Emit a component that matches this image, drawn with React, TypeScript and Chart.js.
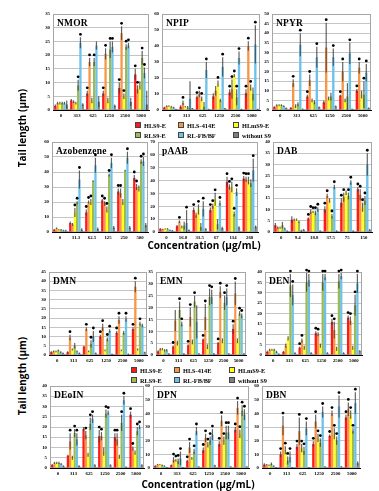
import React, { useEffect, useRef } from 'react';
import { Chart, registerables } from 'chart.js';
Chart.register(...registerables);

// ---------- labels ----------
const seriesNames = ['HLS9-E', 'HLS-414E', 'HLmS9-E', 'RLS9-E', 'RL-FB/BF', 'without S9'];
const seriesColors = ['#ff1a1a', '#f79646', '#ffff1a', '#9bbb59', '#6cc2ea', '#7f7f7f'];

const nitrosoDoses = ['0', '313', '625', '1250', '2500', '5000'];
const azoDoses = ['0', '31.3', '62.5', '125', '250', '500'];
const paabDoses = ['0', '16.8', '33.5', '67', '134', '268'];
const dabDoses = ['0', '9.4', '18.8', '37.5', '75', '150'];

// ---------- data (per series: HLS9-E, HLS-414E, HLmS9-E, RLS9-E, RL-FB/BF, without S9) ----------
const nmorMeans = [
  [1.5, 3.5, 6, 6, 8, 13], [2.5, 3, 17.5, 20.5, 28, 7.5], [2.5, 2.5, 3.5, 3.5, 5, 9],
  [2.5, 9, 17.5, 22, 23, 19], [2.5, 24.5, 23.5, 23, 23.5, 13.5], [2, 2, 3, 1.5, 3, 2]];
const nmorErrors = [
  [0.5, 0.5, 1, 1, 2, 2], [0.5, 0.5, 1.5, 2, 2.5, 1.5], [0.5, 0.5, 1, 1, 1, 1.5],
  [0.5, 2, 1.5, 3, 1, 2.5], [0.5, 2, 1.5, 2, 1, 2], [1.5, 0.5, 2, 0.5, 1.5, 5]];
const nmorStars = [
  [0, 0, 1, 1, 1, 1], [0, 0, 1, 1, 1, 1], [0, 0, 0, 0, 1, 0],
  [0, 1, 1, 1, 1, 1], [0, 1, 0, 1, 1, 1], [0, 0, 0, 0, 0, 0]];

const npipMeans = [
  [1.5, 2, 8, 8.5, 11, 10.5], [2.5, 4.5, 10, 12, 13, 40], [2.5, 2, 7, 16.5, 21.5, 14],
  [2, 1.5, 2, 6, 8, 10], [1.5, 7, 25, 27, 32.5, 41], [0.5, 1, 0.5, 1, 0.5, 0.5]];
const npipErrors = [
  [0.5, 1, 1, 2, 2, 2.5], [0.5, 1.5, 2, 3, 6, 3], [0.5, 0.5, 1.5, 2, 1, 2],
  [0.5, 1, 3, 1, 5, 4], [0.5, 11, 5, 6, 4, 12], [0.3, 0.3, 0.3, 0.3, 0.3, 0.3]];
const npipStars = [
  [0, 0, 1, 0, 1, 1], [0, 1, 1, 0, 1, 1], [0, 0, 1, 1, 1, 1],
  [0, 0, 0, 0, 1, 0], [0, 0, 1, 1, 1, 1], [0, 0, 0, 0, 0, 0]];

const npyrMeans = [
  [1.5, 1, 7, 4, 7.5, 10], [2.5, 14, 15.5, 32.5, 20, 22], [2.5, 2, 5, 6, 5, 8],
  [2.5, 3, 4, 7, 7, 8], [2, 34, 27.5, 27.5, 29.5, 19.5], [1, 0.5, 1.5, 2, 0.5, 1]];
const npyrErrors = [
  [0.5, 0.5, 1, 1, 0.5, 1], [0.5, 2, 3, 13, 5, 3], [0.5, 1, 1, 1, 1, 2],
  [0.5, 1, 1, 2, 7, 7], [0.5, 6, 5.5, 4.5, 5.5, 4.5], [0.3, 0.3, 0.3, 0.3, 0.3, 0.3]];
const npyrStars = [
  [0, 0, 1, 0, 1, 1], [0, 1, 1, 1, 1, 1], [0, 0, 0, 0, 0, 0],
  [0, 0, 0, 0, 0, 1], [0, 1, 1, 1, 1, 1], [0, 0, 0, 0, 0, 0]];

const azoMeans = [
  [1.5, 6, 13, 21, 27, 36], [2.5, 5, 20, 19, 26, 30], [1.5, 13, 20, 15, 20, 29],
  [1.5, 19.5, 34, 38, 41, 47], [1, 35, 44.5, 46, 49.5, 47], [1, 1.5, 2, 3, 3, 4.5]];
const azoErrors = [
  [0.5, 1, 2, 1, 2, 2], [0.5, 1, 1, 1.5, 3, 2], [0.5, 3, 2, 2, 2, 2],
  [0.5, 1, 0.5, 1, 0.5, 1.5], [0.5, 6, 5, 3.5, 4, 3], [0.5, 1, 1, 1, 1, 1.5]];
const azoStars = [
  [0, 0, 1, 1, 1, 1], [0, 0, 1, 1, 1, 1], [0, 1, 1, 1, 0, 0],
  [0, 1, 0, 1, 0, 1], [0, 1, 1, 1, 1, 1], [0, 0, 0, 0, 0, 0]];

const paabMeans = [
  [2.5, 4.5, 17, 17, 39, 41.5], [2, 8, 13, 20, 35, 41], [2.5, 4, 17.5, 25.5, 35, 40],
  [2.5, 5, 4, 6, 14, 38], [1.5, 7, 18, 22.5, 31, 48], [1, 1.5, 2.5, 3, 3.5, 4]];
const paabErrors = [
  [0.5, 1, 2, 2, 4, 2], [0.5, 1, 2, 2, 2, 2], [0.5, 1, 4, 5, 4, 3],
  [0.5, 3, 3, 4, 2, 3], [0.5, 10, 6, 2, 3, 9], [0.5, 0.5, 0.5, 1, 1, 1]];
const paabStars = [
  [0, 0, 1, 1, 1, 1], [0, 1, 0, 1, 1, 1], [0, 0, 1, 1, 1, 1],
  [0, 0, 0, 0, 1, 0], [0, 1, 1, 1, 1, 1], [0, 0, 0, 0, 0, 0]];

const dabMeans = [
  [3, 5.5, 6, 10, 13, 19], [2, 5.5, 9, 16, 15.5, 16.5], [2, 5.5, 9, 14, 17.5, 11],
  [3, 4.5, 8.5, 7, 16, 14], [1.5, 0.5, 10, 20, 22, 30], [0.5, 1, 0.5, 0.5, 0.5, 1]];
const dabErrors = [
  [1, 1.5, 0.5, 1.5, 2, 1], [0.5, 0.5, 1, 1, 2, 2.5], [0.5, 0.5, 0.5, 1, 1, 2],
  [1.5, 0.5, 1, 1, 1.5, 2], [0.5, 0.5, 1, 1, 1, 5], [0.3, 0.3, 0.3, 0.3, 0.3, 0.3]];
const dabStars = [
  [0, 0, 1, 1, 1, 1], [0, 0, 1, 1, 1, 1], [0, 0, 1, 0, 0, 1],
  [0, 0, 1, 1, 1, 1], [0, 0, 1, 1, 1, 1], [0, 0, 0, 0, 0, 0]];

const dmnMeans = [
  [1.5, 1.5, 4.5, 10, 12, 14], [2, 9.5, 14, 15, 19, 37], [2, 3, 2, 2.5, 2.5, 3],
  [2.5, 5, 6, 8.5, 12, 17], [1.5, 2, 10, 13, 19.5, 16], [1, 1, 1, 0.5, 0.5, 1.5]];
const dmnErrors = [
  [0.5, 0.5, 0.5, 1, 1, 1], [0.5, 1.5, 1, 2, 2, 3], [0.5, 0.5, 0.5, 0.5, 0.5, 0.5],
  [0.5, 1.5, 2, 1, 1, 1], [0.5, 0.5, 3, 1, 1.5, 1], [0.3, 0.3, 0.3, 0.3, 0.3, 0.3]];
const dmnStars = [
  [0, 0, 0, 1, 1, 1], [0, 1, 1, 1, 1, 1], [0, 0, 0, 0, 0, 0],
  [0, 0, 1, 1, 0, 1], [0, 0, 1, 1, 1, 0], [0, 0, 0, 0, 0, 0]];

const emnMeans = [
  [1.5, 3.5, 4, 6.5, 5, 11], [2.5, 14.5, 16, 16, 26.5, 26], [2.5, 5, 5.5, 3.5, 6, 6],
  [2, 19, 22.5, 24.5, 22, 17.5], [2, 13, 14, 24.5, 24.5, 16.5], [0.5, 0.5, 0.5, 0.5, 0.5, 0.5]];
const emnErrors = [
  [0.5, 0.5, 0.5, 0.5, 0.5, 2], [0.5, 4.5, 4, 5.5, 2.5, 5], [0.5, 1, 1, 1, 1, 1],
  [0.5, 3.5, 2.5, 3.5, 3, 1], [0.5, 1, 7, 3, 3.5, 1], [0.3, 0.3, 0.3, 0.3, 0.3, 0.3]];
const emnStars = [
  [0, 1, 1, 1, 1, 1], [0, 0, 1, 1, 1, 1], [0, 0, 0, 0, 0, 0],
  [0, 1, 1, 1, 1, 1], [0, 1, 0, 1, 1, 1], [0, 0, 0, 0, 0, 0]];

const denMeans = [
  [1.5, 1.5, 3.5, 10.5, 16, 18], [2.5, 4.5, 7, 10, 12, 16.5], [2.5, 8, 3.5, 4.5, 3, 3.5],
  [2.5, 33.5, 35, 35, 35.5, 24], [1.5, 29, 36, 37.5, 38, 34.5], [0.5, 1, 1, 1, 1, 2]];
const denErrors = [
  [0.5, 0.5, 0.5, 1, 1.5, 1], [0.5, 1, 1, 1, 4, 2], [0.5, 1, 1, 1, 1, 1],
  [0.5, 5.5, 4.5, 4, 3.5, 5], [0.5, 5, 3, 1.5, 1.5, 4.5], [0.3, 0.3, 0.3, 0.3, 0.3, 0.3]];
const denStars = [
  [0, 0, 1, 1, 1, 1], [0, 0, 1, 1, 1, 1], [0, 0, 0, 0, 0, 0],
  [0, 1, 1, 1, 1, 1], [0, 1, 1, 1, 1, 1], [0, 0, 0, 0, 0, 0]];

const deoinMeans = [
  [1.5, 6, 19, 15.5, 15, 26], [2.5, 13, 16, 15.5, 14, 9.5], [2.5, 5, 6.5, 8, 5.5, 7.5],
  [2.5, 17, 21.5, 26.5, 22, 18], [2, 14, 24, 27, 33, 20], [1, 1, 1.5, 1.5, 0.5, 1.5]];
const deoinErrors = [
  [0.5, 0.5, 1, 3, 2, 1.5], [0.5, 4, 2, 2, 3, 1], [0.5, 1, 1, 2, 1, 1],
  [0.5, 2, 3, 2, 4, 2], [0.5, 3, 2, 1, 2, 1], [0.3, 0.3, 0.3, 0.3, 0.3, 0.3]];
const deoinStars = [
  [0, 0, 0, 1, 1, 1], [0, 1, 1, 1, 1, 1], [0, 0, 0, 0, 0, 0],
  [0, 1, 1, 1, 1, 1], [0, 1, 1, 1, 1, 1], [0, 0, 0, 0, 0, 0]];

const dpnMeans = [
  [1.5, 2, 5, 13, 17.5, 28], [2.5, 6, 15, 22, 34.5, 44], [2.5, 5.5, 7, 17, 20, 25],
  [2, 5, 12, 20, 26, 42], [1.5, 7, 27, 24.5, 26, 39], [0.5, 0.5, 1, 2, 1, 1]];
const dpnErrors = [
  [0.5, 0.5, 1, 2, 2, 2], [0.5, 2, 4, 3, 4, 5], [0.5, 1, 1, 2, 3, 3],
  [0.5, 2, 2, 3, 5, 4], [0.5, 5, 3, 4, 5, 4], [0.3, 0.3, 0.3, 0.3, 0.3, 0.3]];
const dpnStars = [
  [0, 0, 1, 1, 1, 1], [0, 1, 1, 1, 1, 1], [0, 1, 0, 1, 1, 1],
  [0, 1, 1, 1, 1, 1], [0, 1, 1, 1, 1, 1], [0, 0, 0, 0, 0, 0]];

const dbnMeans = [
  [2.5, 10, 15.5, 17.5, 23.5, 37], [2.5, 31, 27, 34, 40, 43], [2, 13, 14.5, 22, 25, 39],
  [3, 5.5, 12.5, 18.5, 20, 27], [1.5, 8, 29, 41, 45, 47.5], [0.5, 0.5, 0.5, 1, 1, 3.5]];
const dbnErrors = [
  [1, 2, 2, 2, 1, 2], [0.5, 7, 10, 5, 2, 5], [0.5, 3, 3, 3, 4, 3],
  [1, 3, 3, 3, 3, 2], [0.5, 4, 5, 4, 8, 8], [0.3, 0.3, 0.3, 0.3, 0.3, 1.5]];
const dbnStars = [
  [0, 1, 1, 1, 1, 1], [0, 1, 1, 1, 1, 1], [0, 1, 1, 1, 1, 1],
  [0, 1, 1, 1, 1, 1], [0, 1, 1, 1, 1, 1], [0, 0, 0, 0, 0, 0]];

// ---------- panel layout: box = [left, top, right, bottom] of plot area ----------
type Panel = {
  title: string; labels: string[]; means: number[][]; errors: number[][]; stars: number[][];
  max: number; step: number; box: [number, number, number, number];
};

const panels: Panel[] = [
  { title: 'NMOR', labels: nitrosoDoses, means: nmorMeans, errors: nmorErrors, stars: nmorStars, max: 35, step: 5, box: [53, 14, 149, 110] },
  { title: 'NPIP', labels: nitrosoDoses, means: npipMeans, errors: npipErrors, stars: npipStars, max: 60, step: 10, box: [162, 14, 260, 110] },
  { title: 'NPYR', labels: nitrosoDoses, means: npyrMeans, errors: npyrErrors, stars: npyrStars, max: 50, step: 5, box: [272, 14, 371, 110] },
  { title: 'Azobenzene', labels: azoDoses, means: azoMeans, errors: azoErrors, stars: azoStars, max: 60, step: 10, box: [52, 142, 148, 232] },
  { title: 'pAAB', labels: paabDoses, means: paabMeans, errors: paabErrors, stars: paabStars, max: 70, step: 10, box: [158, 142, 258, 232] },
  { title: 'DAB', labels: dabDoses, means: dabMeans, errors: dabErrors, stars: dabStars, max: 40, step: 5, box: [273, 142, 372, 232] },
  { title: 'DMN', labels: nitrosoDoses, means: dmnMeans, errors: dmnErrors, stars: dmnStars, max: 45, step: 5, box: [49, 272, 147, 355] },
  { title: 'EMN', labels: nitrosoDoses, means: emnMeans, errors: emnErrors, stars: emnStars, max: 35, step: 5, box: [156, 272, 246, 355] },
  { title: 'DEN', labels: nitrosoDoses, means: denMeans, errors: denErrors, stars: denStars, max: 40, step: 5, box: [265, 272, 362, 355] },
  { title: 'DEoIN', labels: nitrosoDoses, means: deoinMeans, errors: deoinErrors, stars: deoinStars, max: 40, step: 5, box: [50, 386, 144, 468] },
  { title: 'DPN', labels: nitrosoDoses, means: dpnMeans, errors: dpnErrors, stars: dpnStars, max: 60, step: 10, box: [153, 386, 249, 468] },
  { title: 'DBN', labels: nitrosoDoses, means: dbnMeans, errors: dbnErrors, stars: dbnStars, max: 60, step: 10, box: [262, 386, 360, 468] },
];

const Y_W = 12;
const X_H = 12;
const PAD_T = 6;
const PAD_R = 3;

const errPlugin = {
  id: 'errStars',
  beforeDatasetsDraw(chart: any) {
    const { ctx, chartArea: a } = chart;
    ctx.save();
    ctx.strokeStyle = '#a6a6a6';
    ctx.lineWidth = 1;
    ctx.strokeRect(a.left + 0.5, a.top + 0.5, a.width - 1, a.height - 1);
    ctx.restore();
  },
  afterDatasetsDraw(chart: any) {
    const { ctx } = chart;
    const y = chart.scales.y;
    ctx.save();
    chart.data.datasets.forEach((ds: any, i: number) => {
      const meta = chart.getDatasetMeta(i);
      meta.data.forEach((el: any, j: number) => {
        const v = ds.data[j];
        const e = ds.errors[j];
        const top = y.getPixelForValue(v + e);
        const bot = y.getPixelForValue(Math.max(0, v - e));
        ctx.strokeStyle = 'rgba(60,60,60,0.8)';
        ctx.lineWidth = 1.2;
        ctx.beginPath();
        ctx.moveTo(el.x, bot);
        ctx.lineTo(el.x, top);
        ctx.stroke();
        if (ds.stars[j]) {
          ctx.fillStyle = '#000';
          ctx.beginPath();
          ctx.arc(el.x, top - 3, 1.4, 0, Math.PI * 2);
          ctx.fill();
        }
      });
    });
    ctx.restore();
  },
};

function PanelChart({ p }: { p: Panel }) {
  const ref = useRef<HTMLCanvasElement | null>(null);
  const [l, t, r, b] = p.box;
  const w = r - l + Y_W + PAD_R;
  const h = b - t + PAD_T + X_H;
  useEffect(() => {
    if (!ref.current) return;
    const chart = new Chart(ref.current, {
      type: 'bar',
      data: {
        labels: p.labels,
        datasets: seriesNames.map((name, s) => ({
          label: name,
          data: p.means[s],
          errors: p.errors[s],
          stars: p.stars[s],
          backgroundColor: seriesColors[s],
          borderWidth: 0,
          categoryPercentage: 0.86,
          barPercentage: 1,
        })) as any,
      },
      options: {
        responsive: false,
        animation: false,
        events: [],
        layout: { padding: { top: PAD_T, right: PAD_R, left: 0, bottom: 0 } },
        plugins: { legend: { display: false }, tooltip: { enabled: false }, title: { display: false } },
        scales: {
          x: {
            afterFit: (sc: any) => { sc.height = X_H; },
            grid: { display: false, drawTicks: false },
            border: { display: true, color: '#000', width: 1 },
            ticks: { font: { size: 4.8, weight: 'bold', family: 'Liberation Serif' }, color: '#000', padding: 3, maxRotation: 0, minRotation: 0, autoSkip: false },
          },
          y: {
            min: 0, max: p.max,
            afterFit: (sc: any) => { sc.width = Y_W; },
            grid: { color: '#c4c4c4', lineWidth: 1, drawTicks: false },
            border: { display: true, color: '#000', width: 1 },
            ticks: { stepSize: p.step, font: { size: 4.8, weight: 'bold', family: 'Liberation Serif' }, color: '#000', padding: 3, autoSkip: false },
          },
        },
      } as any,
      plugins: [errPlugin],
    });
    return () => chart.destroy();
  }, []);
  return (
    <>
      <canvas ref={ref} width={w} height={h}
        style={{ position: 'absolute', left: l - Y_W, top: t - PAD_T, width: w, height: h }} />
      <div style={{ position: 'absolute', left: l + 4, top: t + 4, font: 'bold 9.5px "Liberation Serif"', color: '#000', whiteSpace: 'nowrap', letterSpacing: '0.2px' }}>
        {p.title}
      </div>
    </>
  );
}

function Legend({ x, y }: { x: number; y: number }) {
  const cols = [0, 43, 98];
  return (
    <>
      {seriesNames.map((name, s) => {
        const cx = x + cols[s % 3];
        const cy = y + (s < 3 ? 0 : 10);
        return (
          <div key={name} style={{ position: 'absolute', left: cx, top: cy - 4, height: 8, display: 'flex', alignItems: 'center', whiteSpace: 'nowrap' }}>
            <span style={{ display: 'inline-block', width: 6, height: 6, background: seriesColors[s], border: '0.5px solid #444', boxSizing: 'border-box', marginRight: 3 }} />
            <span style={{ font: 'bold 6.3px "Liberation Serif"', color: '#000' }}>{name}</span>
          </div>
        );
      })}
    </>
  );
}

const axisFont = 'bold 10px "Open Sans"';

export default function App() {
  return (
    <div style={{ position: 'absolute', left: 0, top: 0, width: 379, height: 491, background: '#fff', overflow: 'hidden' }}>
      {panels.map((p) => <PanelChart key={p.title} p={p} />)}
      <Legend x={135} y={125} />
      <Legend x={131} y={370} />
      <div style={{ position: 'absolute', left: 204, top: 245, transform: 'translate(-50%,-50%)', font: axisFont, whiteSpace: 'nowrap', color: '#000' }}>Concentration (µg/mL)</div>
      <div style={{ position: 'absolute', left: 198, top: 484, transform: 'translate(-50%,-50%)', font: axisFont, whiteSpace: 'nowrap', color: '#000' }}>Concentration (µg/mL)</div>
      <div style={{ position: 'absolute', left: 22, top: 128, transform: 'translate(-50%,-50%) rotate(-90deg)', font: axisFont, whiteSpace: 'nowrap', color: '#000' }}>Tail length (µm)</div>
      <div style={{ position: 'absolute', left: 22, top: 376, transform: 'translate(-50%,-50%) rotate(-90deg)', font: axisFont, whiteSpace: 'nowrap', color: '#000' }}>Tail length (µm)</div>
    </div>
  );
}
